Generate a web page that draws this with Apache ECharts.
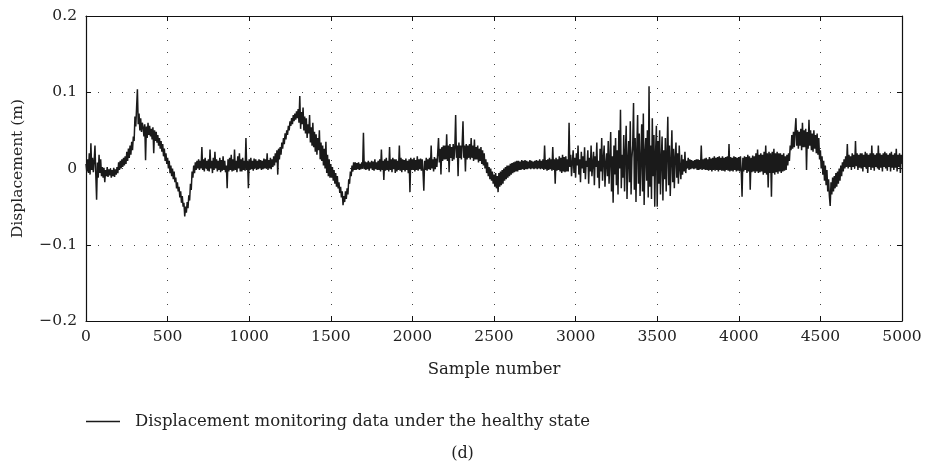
<!DOCTYPE html>
<html>
<head>
<meta charset="utf-8">
<script src="https://cdn.jsdelivr.net/npm/echarts@6/dist/echarts.min.js"></script>
<style>html,body{margin:0;padding:0;background:#fff}#c{width:925px;height:470px}</style>
</head>
<body>
<div id="c"></div>
<script>
// Sample step between stored readings (samples)
const sampleStep = 5;
// Displacement (m), one value every 5 samples, n = 0 ... 5000
const displacement = [
 0.006, -0.004, 0.012, -0.006, 0.02, -0.008, 0.033, -0.002, 0.014, -0.005,
 0.01, 0.03, -0.008, -0.041, 0.008, -0.012, 0.018, -0.006, 0.012, -0.01,
 0.002, -0.012, 0.001, -0.018, -0.002, -0.01, 0.002, -0.011, -0.001, -0.009,
 0.0, -0.012, -0.002, -0.01, 0.001, -0.011, -0.001, -0.008, 0.002, -0.006,
 0.008, -0.002, 0.01, 0.0, 0.012, 0.002, 0.014, 0.004, 0.016, 0.006,
 0.022, 0.01, 0.026, 0.014, 0.03, 0.018, 0.035, 0.024, 0.042, 0.036,
 0.068, 0.055, 0.08, 0.104, 0.058, 0.072, 0.05, 0.066, 0.048, 0.06,
 0.054, 0.042, 0.058, 0.011, 0.055, 0.04, 0.06, 0.044, 0.056, 0.042,
 0.052, 0.038, 0.054, 0.02, 0.05, 0.036, 0.048, 0.034, 0.044, 0.03,
 0.04, 0.026, 0.036, 0.022, 0.032, 0.016, 0.026, 0.01, 0.02, 0.006,
 0.014, 0.0, 0.01, -0.006, 0.004, -0.01, 0.0, -0.014, -0.004, -0.018,
 -0.012, -0.026, -0.018, -0.03, -0.024, -0.038, -0.03, -0.045, -0.036, -0.05,
 -0.045, -0.063, -0.05, -0.058, -0.044, -0.052, -0.035, -0.042, -0.02, -0.028,
 -0.004, -0.012, 0.004, -0.006, 0.008, -0.002, 0.01, 0.0, 0.012, -0.002,
 0.01, 0.0, 0.028, -0.002, 0.012, -0.004, 0.014, 0.0, 0.01, -0.003,
 0.012, -0.004, 0.025, 0.0, 0.01, -0.006, 0.014, -0.002, 0.022, 0.0,
 0.012, -0.004, 0.01, -0.002, 0.014, -0.005, 0.011, -0.003, 0.016, -0.002,
 0.01, -0.005, 0.004, -0.026, 0.012, -0.004, 0.014, -0.002, 0.018, -0.004,
 0.012, -0.003, 0.025, -0.002, 0.01, -0.005, 0.016, 0.0, 0.02, -0.004,
 0.012, -0.004, 0.014, -0.002, 0.01, -0.003, 0.04, -0.002, 0.01, -0.026,
 0.012, -0.002, 0.014, -0.001, 0.01, -0.003, 0.013, 0.0, 0.012, -0.002,
 0.01, -0.001, 0.012, 0.0, 0.011, -0.002, 0.01, -0.001, 0.013, 0.0,
 0.012, 0.0, 0.02, -0.002, 0.011, 0.0, 0.014, -0.001, 0.012, 0.002,
 0.016, 0.004, 0.02, 0.008, 0.024, -0.008, 0.026, 0.012, 0.028, 0.018,
 0.034, 0.026, 0.04, 0.032, 0.046, 0.038, 0.05, 0.044, 0.056, 0.05,
 0.062, 0.056, 0.066, 0.058, 0.07, 0.062, 0.072, 0.064, 0.075, 0.066,
 0.078, 0.06, 0.095, 0.052, 0.074, 0.058, 0.08, 0.05, 0.068, 0.046,
 0.066, 0.04, 0.058, 0.046, 0.07, 0.034, 0.054, 0.03, 0.06, 0.028,
 0.048, 0.022, 0.045, 0.018, 0.04, 0.024, 0.05, 0.012, 0.034, 0.01,
 0.03, 0.004, 0.026, 0.0, 0.035, -0.006, 0.018, -0.01, 0.012, -0.012,
 0.006, -0.012, 0.002, -0.016, -0.002, -0.02, -0.006, -0.024, -0.01, -0.026,
 -0.018, -0.032, -0.024, -0.038, -0.03, -0.048, -0.036, -0.044, -0.03, -0.04,
 -0.026, -0.034, -0.014, -0.02, -0.004, -0.01, 0.004, -0.004, 0.008, -0.002,
 0.008, -0.002, 0.007, -0.001, 0.008, -0.002, 0.006, -0.001, 0.008, 0.0,
 0.047, -0.001, 0.009, -0.002, 0.008, -0.001, 0.01, -0.003, 0.008, 0.0,
 0.01, -0.002, 0.009, -0.003, 0.012, -0.001, 0.008, -0.002, 0.01, -0.002,
 0.012, -0.004, 0.025, -0.002, 0.01, -0.015, 0.012, -0.003, 0.014, -0.002,
 0.01, -0.004, 0.028, -0.002, 0.012, -0.005, 0.014, -0.001, 0.012, -0.006,
 0.012, -0.004, 0.01, -0.002, 0.03, -0.003, 0.014, -0.005, 0.012, -0.002,
 0.011, -0.004, 0.013, -0.002, 0.01, -0.006, 0.012, -0.031, 0.014, -0.002,
 0.012, -0.002, 0.014, -0.004, 0.011, -0.002, 0.016, -0.003, 0.012, -0.001,
 0.013, -0.003, 0.012, -0.004, -0.029, 0.01, -0.002, 0.014, -0.003, 0.012,
 -0.001, 0.014, -0.002, 0.03, 0.0, 0.012, -0.004, 0.015, -0.001, 0.013,
 0.002, 0.02, 0.04, 0.008, 0.026, -0.008, 0.028, 0.01, 0.03, 0.012,
 0.03, 0.012, 0.045, 0.01, 0.03, -0.005, 0.032, 0.014, 0.028, 0.01,
 0.032, 0.012, 0.028, 0.07, 0.014, 0.03, -0.01, 0.034, 0.014, 0.03,
 0.012, 0.032, 0.062, 0.014, 0.03, -0.004, 0.032, 0.012, 0.03, 0.014,
 0.032, 0.012, 0.04, 0.014, 0.03, 0.01, 0.038, 0.012, 0.028, 0.012,
 0.03, 0.008, 0.026, 0.01, 0.028, 0.006, 0.024, 0.004, 0.02, 0.0,
 0.012, -0.006, 0.008, -0.01, 0.002, -0.014, 0.0, -0.016, -0.004, -0.02,
 -0.008, -0.024, -0.006, -0.026, -0.01, -0.031, -0.006, -0.024, -0.004, -0.022,
 -0.002, -0.02, 0.0, -0.016, 0.002, -0.014, 0.004, -0.012, 0.004, -0.01,
 0.006, -0.008, 0.007, -0.006, 0.008, -0.005, 0.009, -0.004, 0.01, -0.004,
 0.01, -0.002, 0.009, -0.002, 0.011, -0.001, 0.01, -0.002, 0.011, -0.001,
 0.01, -0.001, 0.009, 0.0, 0.011, -0.001, 0.01, 0.0, 0.009, -0.001,
 0.01, 0.0, 0.011, -0.001, 0.01, 0.0, 0.012, -0.001, 0.01, 0.0,
 0.012, -0.002, 0.03, -0.001, 0.011, -0.003, 0.012, -0.002, 0.014, -0.001,
 0.012, -0.003, 0.028, -0.002, 0.012, -0.02, 0.014, -0.003, 0.012, -0.002,
 0.016, -0.004, 0.014, -0.006, 0.018, -0.004, 0.015, -0.005, 0.016, -0.004,
 0.012, -0.004, 0.06, 0.002, 0.018, -0.01, 0.008, 0.024, -0.006, 0.014,
 -0.012, 0.02, 0.004, 0.03, -0.008, 0.012, -0.018, 0.022, 0.0, 0.016,
 -0.006, 0.028, -0.014, 0.01, 0.002, 0.024, -0.02, 0.014, -0.004, 0.03,
 -0.01, 0.006, 0.022, -0.022, 0.016, 0.002, 0.034, -0.012, 0.01, -0.026,
 0.026, -0.004, 0.04, -0.016, 0.012, 0.03, -0.024, 0.006, 0.02, -0.01,
 0.036, -0.02, 0.01, 0.048, -0.03, 0.016, -0.045, 0.03, -0.008, 0.04,
 -0.022, 0.024, -0.034, 0.05, 0.0, 0.077, -0.026, 0.018, -0.012, 0.044,
 -0.03, 0.02, 0.056, -0.04, 0.01, 0.036, -0.018, 0.062, -0.034, 0.014,
 0.03, 0.086, -0.028, 0.04, -0.044, 0.024, 0.07, -0.02, 0.046, -0.036,
 0.012, 0.058, -0.03, 0.072, -0.048, 0.02, 0.04, -0.016, 0.05, -0.038,
 0.108, -0.024, 0.03, -0.04, 0.066, -0.01, 0.044, -0.05, 0.02, 0.056,
 -0.05, 0.036, -0.02, 0.05, -0.034, 0.012, 0.042, -0.042, 0.024, -0.014,
 0.04, -0.03, 0.018, 0.068, -0.022, 0.03, -0.036, 0.01, 0.05, -0.018,
 0.026, -0.026, 0.014, 0.034, -0.012, 0.02, -0.02, 0.03, 0.0, -0.014,
 0.018, -0.008, 0.012, -0.004, 0.022, -0.006, 0.01, 0.0, 0.014, -0.002,
 0.012, -0.001, 0.011, 0.0, 0.01, -0.001, 0.011, 0.0, 0.012, -0.002,
 0.012, -0.002, 0.011, -0.001, 0.03, -0.002, 0.012, -0.001, 0.013, -0.002,
 0.014, -0.002, 0.012, -0.003, 0.015, -0.002, 0.013, -0.004, 0.014, -0.002,
 0.016, -0.003, 0.014, -0.002, 0.015, -0.004, 0.016, -0.002, 0.014, -0.003,
 0.016, -0.003, 0.014, -0.004, 0.015, -0.002, 0.016, -0.003, 0.032, -0.004,
 0.015, -0.003, 0.014, -0.004, 0.016, -0.002, 0.015, -0.004, 0.014, -0.003,
 0.015, -0.004, 0.016, -0.003, -0.037, 0.014, -0.004, 0.016, -0.002, 0.015,
 -0.006, 0.018, -0.004, 0.016, -0.028, 0.014, -0.005, 0.017, -0.004, 0.016,
 -0.006, 0.02, -0.004, 0.025, -0.006, 0.018, -0.005, 0.02, -0.004, 0.018,
 -0.008, 0.022, -0.006, 0.03, -0.008, 0.02, -0.025, 0.022, -0.006, 0.02,
 -0.037, 0.022, -0.006, 0.026, -0.008, 0.02, -0.005, 0.022, -0.007, 0.02,
 -0.004, 0.02, -0.006, 0.018, -0.004, 0.02, -0.003, 0.016, -0.002, 0.018,
 0.004, 0.02, 0.01, 0.03, 0.024, 0.044, 0.026, 0.048, 0.028, 0.05,
 0.066, 0.03, 0.05, 0.026, 0.048, 0.03, 0.052, 0.024, 0.06, 0.028,
 0.05, 0.028, 0.052, -0.002, 0.048, 0.026, 0.064, 0.03, 0.05, 0.024,
 0.046, 0.022, 0.05, 0.026, 0.044, 0.02, 0.046, 0.018, 0.04, 0.012,
 0.024, 0.0, 0.016, -0.008, 0.01, -0.016, 0.004, -0.022, -0.002, -0.03,
 -0.014, -0.036, -0.049, -0.018, -0.034, -0.012, -0.03, -0.01, -0.026, -0.006,
 -0.024, -0.004, -0.02, 0.0, -0.016, 0.004, -0.01, 0.008, -0.004, 0.012,
 0.0, 0.016, 0.002, 0.032, 0.0, 0.018, 0.002, 0.016, -0.002, 0.02,
 0.002, 0.018, 0.0, 0.036, 0.003, 0.02, -0.002, 0.018, 0.001, 0.02,
 0.0, 0.02, -0.004, 0.018, 0.002, 0.022, 0.0, 0.02, -0.006, 0.018,
 0.002, 0.02, -0.002, 0.03, 0.001, 0.02, -0.003, 0.018, 0.002, 0.02,
 0.0, 0.03, -0.002, 0.02, 0.001, 0.018, -0.004, 0.02, 0.002, 0.022,
 0.0, 0.02, -0.003, 0.018, 0.002, 0.02, -0.004, 0.022, 0.001, 0.018,
 -0.002, 0.02, 0.001, 0.026, -0.004, 0.018, 0.002, 0.02, -0.006, 0.018,
 0.006
];
const xTicks = [0, 500, 1000, 1500, 2000, 2500, 3000, 3500, 4000, 4500, 5000];
const yTicks = [-0.2, -0.1, 0, 0.1, 0.2];
const seriesName = 'Displacement monitoring data under the healthy state';
const xAxisTitle = 'Sample number';
const yAxisTitle = 'Displacement (m)';
const panelLabel = '(d)';

const FONT = 'DejaVu Serif';
const pairs = displacement.map((v, i) => [i * sampleStep, v]);
const fmtY = v => {
  if (Math.abs(v) < 1e-9) return '0';
  return (v < 0 ? '\u22120' : '0') + '.' + Math.round(Math.abs(v) * 10);
};
const fmtX = v => String(Math.round(v));
const grid = { left: 86, right: 23, top: 16, bottom: 149 };
const gridLine = { show: true, lineStyle: { color: '#444', width: 1, type: [1, 11] } };
const chart = echarts.init(document.getElementById('c'), null, { renderer: 'canvas' });
chart.setOption({
  animation: false,
  backgroundColor: '#fff',
  textStyle: { fontFamily: FONT },
  title: {
    text: panelLabel, left: 'center', top: 441,
    textStyle: { fontFamily: FONT, fontSize: 16, fontWeight: 'normal', color: '#222' }
  },
  legend: {
    left: 86, top: 413, padding: 0, orient: 'horizontal',
    itemWidth: 34, itemHeight: 1.5,
    data: [{ name: seriesName, icon: 'rect' }],
    textStyle: { fontFamily: FONT, fontSize: 16.5, color: '#222', padding: [0, 0, 0, 10] }
  },
  grid: grid,
  xAxis: [{
    type: 'value', min: xTicks[0], max: xTicks[xTicks.length - 1], interval: 500,
    position: 'bottom',
    name: xAxisTitle, nameLocation: 'middle', nameGap: 40,
    nameTextStyle: { fontFamily: FONT, fontSize: 16.5, color: '#222' },
    axisLine: { show: true, onZero: false, lineStyle: { color: '#111', width: 1.2 } },
    axisTick: { show: true, inside: true, length: 5, lineStyle: { color: '#111' } },
    axisLabel: { fontFamily: FONT, fontSize: 15.5, color: '#222', margin: 8, formatter: fmtX },
    splitLine: gridLine
  }, {
    type: 'value', min: xTicks[0], max: xTicks[xTicks.length - 1], interval: 500,
    position: 'top',
    axisLine: { show: true, onZero: false, lineStyle: { color: '#111', width: 1.2 } },
    axisTick: { show: true, inside: true, length: 5, lineStyle: { color: '#111' } },
    axisLabel: { show: false },
    splitLine: { show: false }
  }],
  yAxis: [{
    type: 'value', min: yTicks[0], max: yTicks[yTicks.length - 1], interval: 0.1,
    position: 'left',
    name: yAxisTitle, nameLocation: 'middle', nameGap: 60, nameRotate: 90,
    nameTextStyle: { fontFamily: FONT, fontSize: 15.5, color: '#222' },
    axisLine: { show: true, onZero: false, lineStyle: { color: '#111', width: 1.2 } },
    axisTick: { show: true, inside: true, length: 5, lineStyle: { color: '#111' } },
    axisLabel: { fontFamily: FONT, fontSize: 15.5, color: '#222', margin: 9, formatter: fmtY },
    splitLine: gridLine
  }, {
    type: 'value', min: yTicks[0], max: yTicks[yTicks.length - 1], interval: 0.1,
    position: 'right',
    axisLine: { show: true, onZero: false, lineStyle: { color: '#111', width: 1.2 } },
    axisTick: { show: true, inside: true, length: 5, lineStyle: { color: '#111' } },
    axisLabel: { show: false },
    splitLine: { show: false }
  }],
  series: [{
    name: seriesName, type: 'line', xAxisIndex: 0, yAxisIndex: 0,
    data: pairs, showSymbol: false, symbol: 'none', sampling: null,
    lineStyle: { color: '#1a1a1a', width: 1.5 },
    itemStyle: { color: '#1a1a1a' }
  }]
});
</script>
</body>
</html>
